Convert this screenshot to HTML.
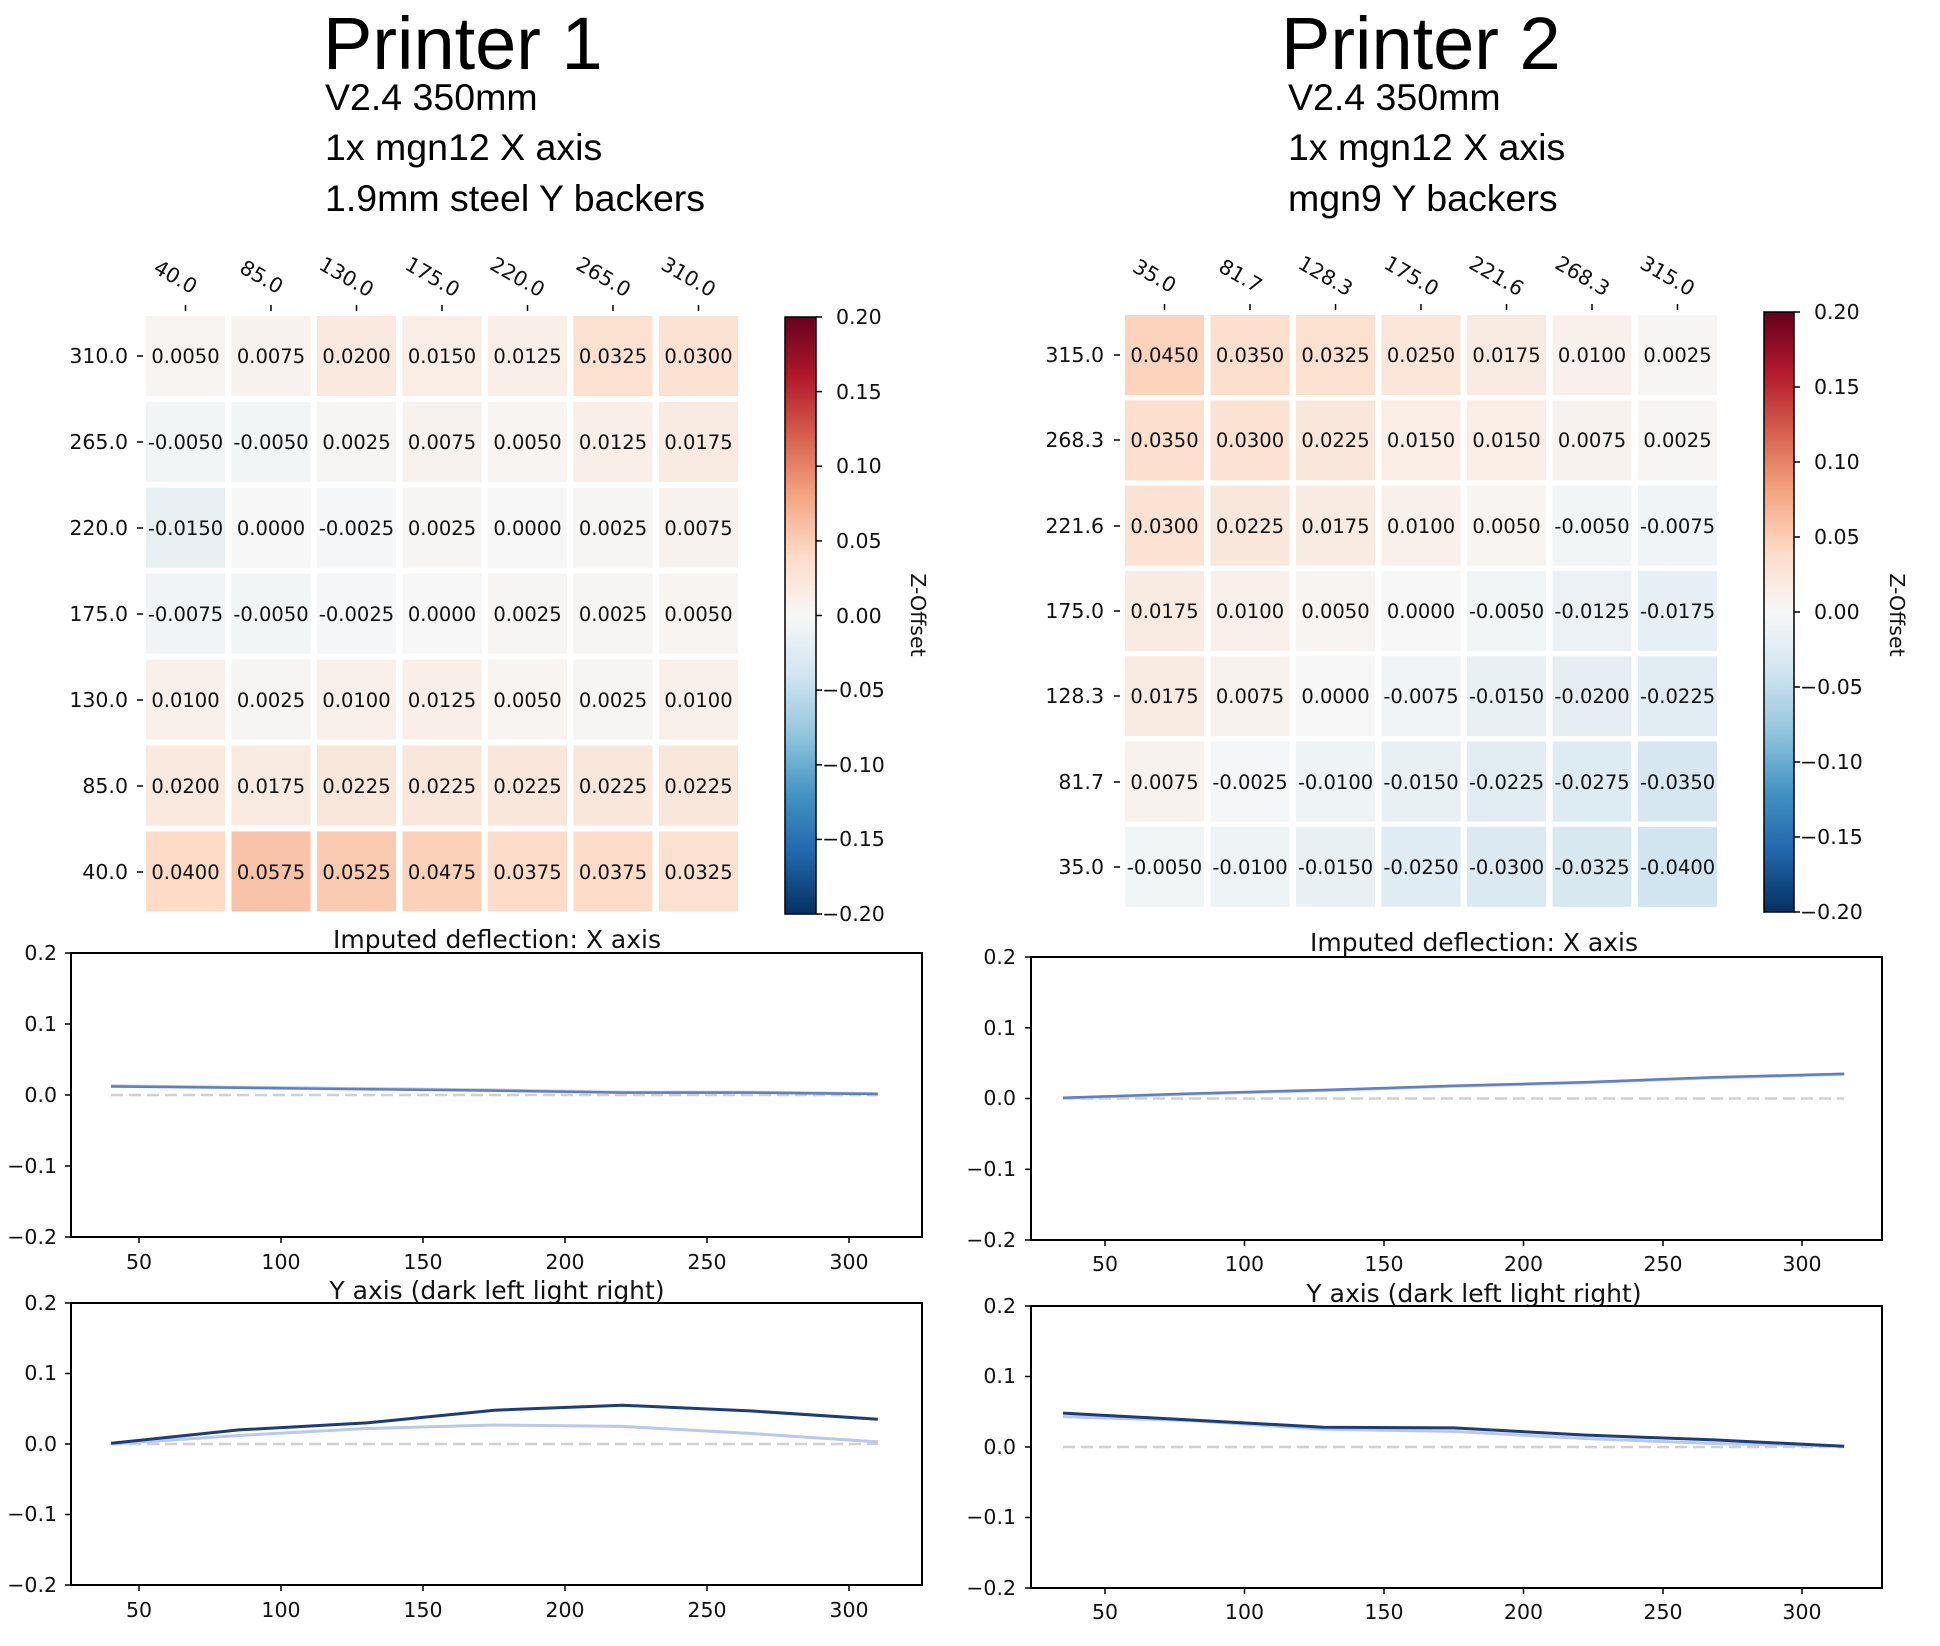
<!DOCTYPE html>
<html><head><meta charset="utf-8"><style>
html,body{margin:0;padding:0;background:#fff;}
svg{display:block;}
.t{font-family:"DejaVu Sans","Liberation Sans",sans-serif;font-size:20.5px;fill:#111;}
.cell text{font-size:19.5px;}
.c{text-anchor:middle;}
.r{text-anchor:end;}
.h{font-family:"Liberation Sans",sans-serif;fill:#000;}
</style></head><body>
<svg width="1940" height="1646" viewBox="0 0 1940 1646" xmlns="http://www.w3.org/2000/svg">
<defs>
<linearGradient id="cb" x1="0" y1="1" x2="0" y2="0">
<stop offset="0" stop-color="#053061"/><stop offset="0.1" stop-color="#2166ac"/><stop offset="0.2" stop-color="#4393c3"/><stop offset="0.3" stop-color="#92c5de"/><stop offset="0.4" stop-color="#d1e5f0"/><stop offset="0.5" stop-color="#f7f7f7"/><stop offset="0.6" stop-color="#fddbc7"/><stop offset="0.7" stop-color="#f4a582"/><stop offset="0.8" stop-color="#d6604d"/><stop offset="0.9" stop-color="#b2182b"/><stop offset="1" stop-color="#67001f"/>
</linearGradient>
</defs>
<rect width="1940" height="1646" fill="#fff"/>

<text class="h" x="323" y="69" font-size="74">Printer 1</text>
<text class="h" x="325" y="110" font-size="37.5">V2.4 350mm</text>
<text class="h" x="325" y="160" font-size="37.5">1x mgn12 X axis</text>
<text class="h" x="325" y="211" font-size="37.5">1.9mm steel Y backers</text>
<text class="h" x="1281" y="69" font-size="74">Printer 2</text>
<text class="h" x="1288" y="110" font-size="37.5">V2.4 350mm</text>
<text class="h" x="1288" y="160" font-size="37.5">1x mgn12 X axis</text>
<text class="h" x="1288" y="211" font-size="37.5">mgn9 Y backers</text>

<g class="t" stroke="none">
<g stroke="#000" stroke-width="1.5">
<line x1="185.5" y1="305" x2="185.5" y2="311"/><line x1="271" y1="305" x2="271" y2="311"/><line x1="356.5" y1="305" x2="356.5" y2="311"/><line x1="442" y1="305" x2="442" y2="311"/><line x1="527.5" y1="305" x2="527.5" y2="311"/><line x1="613" y1="305" x2="613" y2="311"/><line x1="698.5" y1="305" x2="698.5" y2="311"/>
<line x1="137" y1="356" x2="143" y2="356"/><line x1="137" y1="442" x2="143" y2="442"/><line x1="137" y1="528" x2="143" y2="528"/><line x1="137" y1="614" x2="143" y2="614"/><line x1="137" y1="700" x2="143" y2="700"/><line x1="137" y1="786" x2="143" y2="786"/><line x1="137" y1="872" x2="143" y2="872"/>
</g>
<text class="t c" transform="translate(172,283) rotate(30)">40.0</text>
<text class="t c" transform="translate(258,283) rotate(30)">85.0</text>
<text class="t c" transform="translate(343,283) rotate(30)">130.0</text>
<text class="t c" transform="translate(429,283) rotate(30)">175.0</text>
<text class="t c" transform="translate(514,283) rotate(30)">220.0</text>
<text class="t c" transform="translate(600,283) rotate(30)">265.0</text>
<text class="t c" transform="translate(685,283) rotate(30)">310.0</text>
<text class="t r" x="128" y="363">310.0</text>
<text class="t r" x="128" y="449">265.0</text>
<text class="t r" x="128" y="535">220.0</text>
<text class="t r" x="128" y="621">175.0</text>
<text class="t r" x="128" y="707">130.0</text>
<text class="t r" x="128" y="793">85.0</text>
<text class="t r" x="128" y="879">40.0</text>
</g>

<g class="t c cell">
<rect x="146" y="316" width="79" height="80" fill="rgb(248,244,241)"/><text x="185.5" y="363">0.0050</text>
<rect x="231.5" y="316" width="79" height="80" fill="rgb(248,242,238)"/><text x="271" y="363">0.0075</text>
<rect x="317" y="316" width="79" height="80" fill="rgb(250,233,223)"/><text x="356.5" y="363">0.0200</text>
<rect x="402.5" y="316" width="79" height="80" fill="rgb(249,237,229)"/><text x="442" y="363">0.0150</text>
<rect x="488" y="316" width="79" height="80" fill="rgb(249,238,232)"/><text x="527.5" y="363">0.0125</text>
<rect x="573.5" y="316" width="79" height="80" fill="rgb(252,224,208)"/><text x="613" y="363">0.0325</text>
<rect x="659" y="316" width="79" height="80" fill="rgb(252,226,211)"/><text x="698.5" y="363">0.0300</text>
<rect x="146" y="401.9" width="79" height="80" fill="rgb(242,245,246)"/><text x="185.5" y="449">-0.0050</text>
<rect x="231.5" y="401.9" width="79" height="80" fill="rgb(242,245,246)"/><text x="271" y="449">-0.0050</text>
<rect x="317" y="401.9" width="79" height="80" fill="rgb(247,245,244)"/><text x="356.5" y="449">0.0025</text>
<rect x="402.5" y="401.9" width="79" height="80" fill="rgb(248,242,238)"/><text x="442" y="449">0.0075</text>
<rect x="488" y="401.9" width="79" height="80" fill="rgb(248,244,241)"/><text x="527.5" y="449">0.0050</text>
<rect x="573.5" y="401.9" width="79" height="80" fill="rgb(249,238,232)"/><text x="613" y="449">0.0125</text>
<rect x="659" y="401.9" width="79" height="80" fill="rgb(250,235,226)"/><text x="698.5" y="449">0.0175</text>
<rect x="146" y="487.8" width="79" height="80" fill="rgb(233,240,244)"/><text x="185.5" y="535">-0.0150</text>
<rect x="231.5" y="487.8" width="79" height="80" fill="rgb(247,247,247)"/><text x="271" y="535">0.0000</text>
<rect x="317" y="487.8" width="79" height="80" fill="rgb(245,246,247)"/><text x="356.5" y="535">-0.0025</text>
<rect x="402.5" y="487.8" width="79" height="80" fill="rgb(247,245,244)"/><text x="442" y="535">0.0025</text>
<rect x="488" y="487.8" width="79" height="80" fill="rgb(247,247,247)"/><text x="527.5" y="535">0.0000</text>
<rect x="573.5" y="487.8" width="79" height="80" fill="rgb(247,245,244)"/><text x="613" y="535">0.0025</text>
<rect x="659" y="487.8" width="79" height="80" fill="rgb(248,242,238)"/><text x="698.5" y="535">0.0075</text>
<rect x="146" y="573.7" width="79" height="80" fill="rgb(240,244,246)"/><text x="185.5" y="621">-0.0075</text>
<rect x="231.5" y="573.7" width="79" height="80" fill="rgb(242,245,246)"/><text x="271" y="621">-0.0050</text>
<rect x="317" y="573.7" width="79" height="80" fill="rgb(245,246,247)"/><text x="356.5" y="621">-0.0025</text>
<rect x="402.5" y="573.7" width="79" height="80" fill="rgb(247,247,247)"/><text x="442" y="621">0.0000</text>
<rect x="488" y="573.7" width="79" height="80" fill="rgb(247,245,244)"/><text x="527.5" y="621">0.0025</text>
<rect x="573.5" y="573.7" width="79" height="80" fill="rgb(247,245,244)"/><text x="613" y="621">0.0025</text>
<rect x="659" y="573.7" width="79" height="80" fill="rgb(248,244,241)"/><text x="698.5" y="621">0.0050</text>
<rect x="146" y="659.6" width="79" height="80" fill="rgb(249,240,235)"/><text x="185.5" y="707">0.0100</text>
<rect x="231.5" y="659.6" width="79" height="80" fill="rgb(247,245,244)"/><text x="271" y="707">0.0025</text>
<rect x="317" y="659.6" width="79" height="80" fill="rgb(249,240,235)"/><text x="356.5" y="707">0.0100</text>
<rect x="402.5" y="659.6" width="79" height="80" fill="rgb(249,238,232)"/><text x="442" y="707">0.0125</text>
<rect x="488" y="659.6" width="79" height="80" fill="rgb(248,244,241)"/><text x="527.5" y="707">0.0050</text>
<rect x="573.5" y="659.6" width="79" height="80" fill="rgb(247,245,244)"/><text x="613" y="707">0.0025</text>
<rect x="659" y="659.6" width="79" height="80" fill="rgb(249,240,235)"/><text x="698.5" y="707">0.0100</text>
<rect x="146" y="745.5" width="79" height="80" fill="rgb(250,233,223)"/><text x="185.5" y="793">0.0200</text>
<rect x="231.5" y="745.5" width="79" height="80" fill="rgb(250,235,226)"/><text x="271" y="793">0.0175</text>
<rect x="317" y="745.5" width="79" height="80" fill="rgb(250,231,220)"/><text x="356.5" y="793">0.0225</text>
<rect x="402.5" y="745.5" width="79" height="80" fill="rgb(250,231,220)"/><text x="442" y="793">0.0225</text>
<rect x="488" y="745.5" width="79" height="80" fill="rgb(250,231,220)"/><text x="527.5" y="793">0.0225</text>
<rect x="573.5" y="745.5" width="79" height="80" fill="rgb(250,231,220)"/><text x="613" y="793">0.0225</text>
<rect x="659" y="745.5" width="79" height="80" fill="rgb(250,231,220)"/><text x="698.5" y="793">0.0225</text>
<rect x="146" y="831.4" width="79" height="80" fill="rgb(253,219,199)"/><text x="185.5" y="879">0.0400</text>
<rect x="231.5" y="831.4" width="79" height="80" fill="rgb(249,195,169)"/><text x="271" y="879">0.0575</text>
<rect x="317" y="831.4" width="79" height="80" fill="rgb(250,202,177)"/><text x="356.5" y="879">0.0525</text>
<rect x="402.5" y="831.4" width="79" height="80" fill="rgb(251,209,186)"/><text x="442" y="879">0.0475</text>
<rect x="488" y="831.4" width="79" height="80" fill="rgb(253,221,202)"/><text x="527.5" y="879">0.0375</text>
<rect x="573.5" y="831.4" width="79" height="80" fill="rgb(253,221,202)"/><text x="613" y="879">0.0375</text>
<rect x="659" y="831.4" width="79" height="80" fill="rgb(252,224,208)"/><text x="698.5" y="879">0.0325</text>
</g>

<rect x="785" y="317" width="31" height="597" fill="url(#cb)" stroke="#000" stroke-width="1.5"/>
<g stroke="#000" stroke-width="1.5">
<line x1="816" y1="317" x2="822" y2="317"/><line x1="816" y1="391.6" x2="822" y2="391.6"/><line x1="816" y1="466.2" x2="822" y2="466.2"/><line x1="816" y1="540.9" x2="822" y2="540.9"/><line x1="816" y1="615.5" x2="822" y2="615.5"/><line x1="816" y1="690.1" x2="822" y2="690.1"/><line x1="816" y1="764.8" x2="822" y2="764.8"/><line x1="816" y1="839.4" x2="822" y2="839.4"/><line x1="816" y1="914" x2="822" y2="914"/>
</g>
<g class="t">
<text x="836" y="324">0.20</text><text x="836" y="399">0.15</text><text x="836" y="473">0.10</text><text x="836" y="548">0.05</text><text x="836" y="623">0.00</text><text x="822" y="697">−0.05</text><text x="822" y="772">−0.10</text><text x="822" y="846">−0.15</text><text x="822" y="921">−0.20</text>
<text transform="translate(911,615) rotate(90)" class="t c">Z-Offset</text>
</g>

<g stroke="#000" stroke-width="1.5">
<line x1="1164.5" y1="304" x2="1164.5" y2="310"/><line x1="1250" y1="304" x2="1250" y2="310"/><line x1="1335.5" y1="304" x2="1335.5" y2="310"/><line x1="1421" y1="304" x2="1421" y2="310"/><line x1="1506.5" y1="304" x2="1506.5" y2="310"/><line x1="1592" y1="304" x2="1592" y2="310"/><line x1="1677.5" y1="304" x2="1677.5" y2="310"/>
<line x1="1114" y1="355" x2="1120" y2="355"/><line x1="1114" y1="440" x2="1120" y2="440"/><line x1="1114" y1="526" x2="1120" y2="526"/><line x1="1114" y1="611" x2="1120" y2="611"/><line x1="1114" y1="696" x2="1120" y2="696"/><line x1="1114" y1="782" x2="1120" y2="782"/><line x1="1114" y1="867" x2="1120" y2="867"/>
</g>
<g class="t">
<text class="t c" transform="translate(1151,282) rotate(30)">35.0</text>
<text class="t c" transform="translate(1237,282) rotate(30)">81.7</text>
<text class="t c" transform="translate(1322,282) rotate(30)">128.3</text>
<text class="t c" transform="translate(1408,282) rotate(30)">175.0</text>
<text class="t c" transform="translate(1493,282) rotate(30)">221.6</text>
<text class="t c" transform="translate(1579,282) rotate(30)">268.3</text>
<text class="t c" transform="translate(1664,282) rotate(30)">315.0</text>
<text class="t r" x="1104" y="362">315.0</text>
<text class="t r" x="1104" y="447">268.3</text>
<text class="t r" x="1104" y="533">221.6</text>
<text class="t r" x="1104" y="618">175.0</text>
<text class="t r" x="1104" y="703">128.3</text>
<text class="t r" x="1104" y="789">81.7</text>
<text class="t r" x="1104" y="874">35.0</text>
</g>

<g class="t c cell">
<rect x="1125" y="315" width="79" height="80" fill="rgb(252,212,190)"/><text x="1164.5" y="362">0.0450</text>
<rect x="1210.5" y="315" width="79" height="80" fill="rgb(252,223,205)"/><text x="1250" y="362">0.0350</text>
<rect x="1296" y="315" width="79" height="80" fill="rgb(252,224,208)"/><text x="1335.5" y="362">0.0325</text>
<rect x="1381.5" y="315" width="79" height="80" fill="rgb(251,230,217)"/><text x="1421" y="362">0.0250</text>
<rect x="1467" y="315" width="79" height="80" fill="rgb(250,235,226)"/><text x="1506.5" y="362">0.0175</text>
<rect x="1552.5" y="315" width="79" height="80" fill="rgb(249,240,235)"/><text x="1592" y="362">0.0100</text>
<rect x="1638" y="315" width="79" height="80" fill="rgb(247,245,244)"/><text x="1677.5" y="362">0.0025</text>
<rect x="1125" y="400.3" width="79" height="80" fill="rgb(252,223,205)"/><text x="1164.5" y="447">0.0350</text>
<rect x="1210.5" y="400.3" width="79" height="80" fill="rgb(252,226,211)"/><text x="1250" y="447">0.0300</text>
<rect x="1296" y="400.3" width="79" height="80" fill="rgb(250,231,220)"/><text x="1335.5" y="447">0.0225</text>
<rect x="1381.5" y="400.3" width="79" height="80" fill="rgb(249,237,229)"/><text x="1421" y="447">0.0150</text>
<rect x="1467" y="400.3" width="79" height="80" fill="rgb(249,237,229)"/><text x="1506.5" y="447">0.0150</text>
<rect x="1552.5" y="400.3" width="79" height="80" fill="rgb(248,242,238)"/><text x="1592" y="447">0.0075</text>
<rect x="1638" y="400.3" width="79" height="80" fill="rgb(247,245,244)"/><text x="1677.5" y="447">0.0025</text>
<rect x="1125" y="485.6" width="79" height="80" fill="rgb(252,226,211)"/><text x="1164.5" y="533">0.0300</text>
<rect x="1210.5" y="485.6" width="79" height="80" fill="rgb(250,231,220)"/><text x="1250" y="533">0.0225</text>
<rect x="1296" y="485.6" width="79" height="80" fill="rgb(250,235,226)"/><text x="1335.5" y="533">0.0175</text>
<rect x="1381.5" y="485.6" width="79" height="80" fill="rgb(249,240,235)"/><text x="1421" y="533">0.0100</text>
<rect x="1467" y="485.6" width="79" height="80" fill="rgb(248,244,241)"/><text x="1506.5" y="533">0.0050</text>
<rect x="1552.5" y="485.6" width="79" height="80" fill="rgb(242,245,246)"/><text x="1592" y="533">-0.0050</text>
<rect x="1638" y="485.6" width="79" height="80" fill="rgb(240,244,246)"/><text x="1677.5" y="533">-0.0075</text>
<rect x="1125" y="570.9" width="79" height="80" fill="rgb(250,235,226)"/><text x="1164.5" y="618">0.0175</text>
<rect x="1210.5" y="570.9" width="79" height="80" fill="rgb(249,240,235)"/><text x="1250" y="618">0.0100</text>
<rect x="1296" y="570.9" width="79" height="80" fill="rgb(248,244,241)"/><text x="1335.5" y="618">0.0050</text>
<rect x="1381.5" y="570.9" width="79" height="80" fill="rgb(247,247,247)"/><text x="1421" y="618">0.0000</text>
<rect x="1467" y="570.9" width="79" height="80" fill="rgb(242,245,246)"/><text x="1506.5" y="618">-0.0050</text>
<rect x="1552.5" y="570.9" width="79" height="80" fill="rgb(235,241,245)"/><text x="1592" y="618">-0.0125</text>
<rect x="1638" y="570.9" width="79" height="80" fill="rgb(230,239,244)"/><text x="1677.5" y="618">-0.0175</text>
<rect x="1125" y="656.2" width="79" height="80" fill="rgb(250,235,226)"/><text x="1164.5" y="703">0.0175</text>
<rect x="1210.5" y="656.2" width="79" height="80" fill="rgb(248,242,238)"/><text x="1250" y="703">0.0075</text>
<rect x="1296" y="656.2" width="79" height="80" fill="rgb(247,247,247)"/><text x="1335.5" y="703">0.0000</text>
<rect x="1381.5" y="656.2" width="79" height="80" fill="rgb(240,244,246)"/><text x="1421" y="703">-0.0075</text>
<rect x="1467" y="656.2" width="79" height="80" fill="rgb(233,240,244)"/><text x="1506.5" y="703">-0.0150</text>
<rect x="1552.5" y="656.2" width="79" height="80" fill="rgb(228,238,243)"/><text x="1592" y="703">-0.0200</text>
<rect x="1638" y="656.2" width="79" height="80" fill="rgb(226,237,243)"/><text x="1677.5" y="703">-0.0225</text>
<rect x="1125" y="741.5" width="79" height="80" fill="rgb(248,242,238)"/><text x="1164.5" y="789">0.0075</text>
<rect x="1210.5" y="741.5" width="79" height="80" fill="rgb(245,246,247)"/><text x="1250" y="789">-0.0025</text>
<rect x="1296" y="741.5" width="79" height="80" fill="rgb(238,243,245)"/><text x="1335.5" y="789">-0.0100</text>
<rect x="1381.5" y="741.5" width="79" height="80" fill="rgb(233,240,244)"/><text x="1421" y="789">-0.0150</text>
<rect x="1467" y="741.5" width="79" height="80" fill="rgb(226,237,243)"/><text x="1506.5" y="789">-0.0225</text>
<rect x="1552.5" y="741.5" width="79" height="80" fill="rgb(221,235,242)"/><text x="1592" y="789">-0.0275</text>
<rect x="1638" y="741.5" width="79" height="80" fill="rgb(214,231,241)"/><text x="1677.5" y="789">-0.0350</text>
<rect x="1125" y="826.8" width="79" height="80" fill="rgb(242,245,246)"/><text x="1164.5" y="874">-0.0050</text>
<rect x="1210.5" y="826.8" width="79" height="80" fill="rgb(238,243,245)"/><text x="1250" y="874">-0.0100</text>
<rect x="1296" y="826.8" width="79" height="80" fill="rgb(233,240,244)"/><text x="1335.5" y="874">-0.0150</text>
<rect x="1381.5" y="826.8" width="79" height="80" fill="rgb(223,236,243)"/><text x="1421" y="874">-0.0250</text>
<rect x="1467" y="826.8" width="79" height="80" fill="rgb(219,234,242)"/><text x="1506.5" y="874">-0.0300</text>
<rect x="1552.5" y="826.8" width="79" height="80" fill="rgb(216,232,241)"/><text x="1592" y="874">-0.0325</text>
<rect x="1638" y="826.8" width="79" height="80" fill="rgb(209,229,240)"/><text x="1677.5" y="874">-0.0400</text>
</g>

<rect x="1764" y="312" width="30" height="600" fill="url(#cb)" stroke="#000" stroke-width="1.5"/>
<g stroke="#000" stroke-width="1.5">
<line x1="1794" y1="312" x2="1800" y2="312"/><line x1="1794" y1="387" x2="1800" y2="387"/><line x1="1794" y1="462" x2="1800" y2="462"/><line x1="1794" y1="537" x2="1800" y2="537"/><line x1="1794" y1="612" x2="1800" y2="612"/><line x1="1794" y1="687" x2="1800" y2="687"/><line x1="1794" y1="762" x2="1800" y2="762"/><line x1="1794" y1="837" x2="1800" y2="837"/><line x1="1794" y1="912" x2="1800" y2="912"/>
</g>
<g class="t">
<text x="1814" y="319">0.20</text><text x="1814" y="394">0.15</text><text x="1814" y="469">0.10</text><text x="1814" y="544">0.05</text><text x="1814" y="619">0.00</text><text x="1800" y="694">−0.05</text><text x="1800" y="769">−0.10</text><text x="1800" y="844">−0.15</text><text x="1800" y="919">−0.20</text>
<text transform="translate(1890,615) rotate(90)" class="t c">Z-Offset</text>
</g>

<!-- LEFT CHART 1 -->
<text class="t c" x="497" y="948" style="font-size:25px">Imputed deflection: X axis</text>
<line x1="111" y1="1095" x2="878" y2="1095" stroke="#d0d0d0" stroke-width="2.5" stroke-dasharray="12,6"/>
<polyline points="111,1085.8 238.8,1087.2 366.6,1088.6 494.4,1090 622.2,1092.2 750,1092.2 877.8,1093.6" fill="none" stroke="#b8c9ec" stroke-width="3"/>
<polyline points="111,1086.5 238.8,1087.8 366.6,1089.2 494.4,1090.6 622.2,1092.6 750,1092.6 877.8,1094" fill="none" stroke="#5f7fc2" stroke-width="2.5"/>
<rect x="71" y="953" width="851" height="284" fill="none" stroke="#000" stroke-width="2"/>
<g stroke="#000" stroke-width="1.5">
<line x1="65" y1="953" x2="71" y2="953"/><line x1="65" y1="1024" x2="71" y2="1024"/><line x1="65" y1="1095" x2="71" y2="1095"/><line x1="65" y1="1166" x2="71" y2="1166"/><line x1="65" y1="1237" x2="71" y2="1237"/>
<line x1="139" y1="1237" x2="139" y2="1243"/><line x1="281" y1="1237" x2="281" y2="1243"/><line x1="423" y1="1237" x2="423" y2="1243"/><line x1="565" y1="1237" x2="565" y2="1243"/><line x1="707" y1="1237" x2="707" y2="1243"/><line x1="849" y1="1237" x2="849" y2="1243"/>
</g>
<g class="t">
<text class="r" x="57" y="960">0.2</text><text class="r" x="57" y="1031">0.1</text><text class="r" x="57" y="1102">0.0</text><text class="r" x="57" y="1173">−0.1</text><text class="r" x="57" y="1244">−0.2</text>
<text class="c" x="139" y="1269">50</text><text class="c" x="281" y="1269">100</text><text class="c" x="423" y="1269">150</text><text class="c" x="565" y="1269">200</text><text class="c" x="707" y="1269">250</text><text class="c" x="849" y="1269">300</text>
</g>

<!-- LEFT CHART 2 -->
<text class="t c" x="497" y="1299" style="font-size:25px">Y axis (dark left light right)</text>
<line x1="111" y1="1444" x2="878" y2="1444" stroke="#d0d0d0" stroke-width="2.5" stroke-dasharray="12,6"/>
<polyline points="111,1444 238.8,1435.5 366.6,1428.5 494.4,1425 622.2,1426.4 750,1433.4 877.8,1441.9" fill="none" stroke="#b8c9ec" stroke-width="3"/>
<polyline points="111,1443.3 238.8,1429.9 366.6,1422.9 494.4,1410.2 622.2,1405.2 750,1410.9 877.8,1419.3" fill="none" stroke="#1c3d7a" stroke-width="3"/>
<rect x="71" y="1303" width="851" height="282" fill="none" stroke="#000" stroke-width="2"/>
<g stroke="#000" stroke-width="1.5">
<line x1="65" y1="1303" x2="71" y2="1303"/><line x1="65" y1="1373.5" x2="71" y2="1373.5"/><line x1="65" y1="1444" x2="71" y2="1444"/><line x1="65" y1="1514.5" x2="71" y2="1514.5"/><line x1="65" y1="1585" x2="71" y2="1585"/>
<line x1="139" y1="1585" x2="139" y2="1591"/><line x1="281" y1="1585" x2="281" y2="1591"/><line x1="423" y1="1585" x2="423" y2="1591"/><line x1="565" y1="1585" x2="565" y2="1591"/><line x1="707" y1="1585" x2="707" y2="1591"/><line x1="849" y1="1585" x2="849" y2="1591"/>
</g>
<g class="t">
<text class="r" x="57" y="1310">0.2</text><text class="r" x="57" y="1380">0.1</text><text class="r" x="57" y="1451">0.0</text><text class="r" x="57" y="1521">−0.1</text><text class="r" x="57" y="1592">−0.2</text>
<text class="c" x="139" y="1617">50</text><text class="c" x="281" y="1617">100</text><text class="c" x="423" y="1617">150</text><text class="c" x="565" y="1617">200</text><text class="c" x="707" y="1617">250</text><text class="c" x="849" y="1617">300</text>
</g>

<!-- RIGHT CHART 1 -->
<text class="t c" x="1474" y="951" style="font-size:25px">Imputed deflection: X axis</text>
<line x1="1063" y1="1098.5" x2="1844" y2="1098.5" stroke="#d0d0d0" stroke-width="2.5" stroke-dasharray="12,6"/>
<polyline points="1063,1098.2 1193.2,1094 1323.4,1090.5 1453.6,1086.3 1583.8,1082.7 1714,1077.8 1844.2,1074.4" fill="none" stroke="#b8c9ec" stroke-width="3"/>
<polyline points="1063,1097.8 1193.2,1093.5 1323.4,1090 1453.6,1085.8 1583.8,1082.2 1714,1077.3 1844.2,1073.8" fill="none" stroke="#5f7fc2" stroke-width="2.5"/>
<rect x="1031" y="957" width="851" height="283" fill="none" stroke="#000" stroke-width="2"/>
<g stroke="#000" stroke-width="1.5">
<line x1="1025" y1="957" x2="1031" y2="957"/><line x1="1025" y1="1027.8" x2="1031" y2="1027.8"/><line x1="1025" y1="1098.5" x2="1031" y2="1098.5"/><line x1="1025" y1="1169.3" x2="1031" y2="1169.3"/><line x1="1025" y1="1240" x2="1031" y2="1240"/>
<line x1="1105" y1="1240" x2="1105" y2="1246"/><line x1="1244.5" y1="1240" x2="1244.5" y2="1246"/><line x1="1384" y1="1240" x2="1384" y2="1246"/><line x1="1523.5" y1="1240" x2="1523.5" y2="1246"/><line x1="1663" y1="1240" x2="1663" y2="1246"/><line x1="1802" y1="1240" x2="1802" y2="1246"/>
</g>
<g class="t">
<text class="r" x="1016" y="964">0.2</text><text class="r" x="1016" y="1035">0.1</text><text class="r" x="1016" y="1105">0.0</text><text class="r" x="1016" y="1176">−0.1</text><text class="r" x="1016" y="1247">−0.2</text>
<text class="c" x="1105" y="1271">50</text><text class="c" x="1244.5" y="1271">100</text><text class="c" x="1384" y="1271">150</text><text class="c" x="1523.5" y="1271">200</text><text class="c" x="1663" y="1271">250</text><text class="c" x="1802" y="1271">300</text>
</g>

<!-- RIGHT CHART 2 -->
<text class="t c" x="1474" y="1302" style="font-size:25px">Y axis (dark left light right)</text>
<line x1="1063" y1="1447" x2="1844" y2="1447" stroke="#d0d0d0" stroke-width="2.5" stroke-dasharray="12,6"/>
<polyline points="1063,1416.6 1193.2,1420.8 1323.4,1429.3 1453.6,1431.4 1583.8,1438.5 1714,1443.5 1844.2,1446.3" fill="none" stroke="#b8c9ec" stroke-width="3"/>
<polyline points="1063,1413.1 1193.2,1420.1 1323.4,1427.2 1453.6,1427.9 1583.8,1435 1714,1439.9 1844.2,1446.3" fill="none" stroke="#1c3d7a" stroke-width="3"/>
<rect x="1031" y="1306" width="851" height="282" fill="none" stroke="#000" stroke-width="2"/>
<g stroke="#000" stroke-width="1.5">
<line x1="1025" y1="1306" x2="1031" y2="1306"/><line x1="1025" y1="1376.5" x2="1031" y2="1376.5"/><line x1="1025" y1="1447" x2="1031" y2="1447"/><line x1="1025" y1="1517.5" x2="1031" y2="1517.5"/><line x1="1025" y1="1588" x2="1031" y2="1588"/>
<line x1="1105" y1="1588" x2="1105" y2="1594"/><line x1="1244.5" y1="1588" x2="1244.5" y2="1594"/><line x1="1384" y1="1588" x2="1384" y2="1594"/><line x1="1523.5" y1="1588" x2="1523.5" y2="1594"/><line x1="1663" y1="1588" x2="1663" y2="1594"/><line x1="1802" y1="1588" x2="1802" y2="1594"/>
</g>
<g class="t">
<text class="r" x="1016" y="1313">0.2</text><text class="r" x="1016" y="1383">0.1</text><text class="r" x="1016" y="1454">0.0</text><text class="r" x="1016" y="1524">−0.1</text><text class="r" x="1016" y="1595">−0.2</text>
<text class="c" x="1105" y="1619">50</text><text class="c" x="1244.5" y="1619">100</text><text class="c" x="1384" y="1619">150</text><text class="c" x="1523.5" y="1619">200</text><text class="c" x="1663" y="1619">250</text><text class="c" x="1802" y="1619">300</text>
</g>
</svg>
</body></html>
